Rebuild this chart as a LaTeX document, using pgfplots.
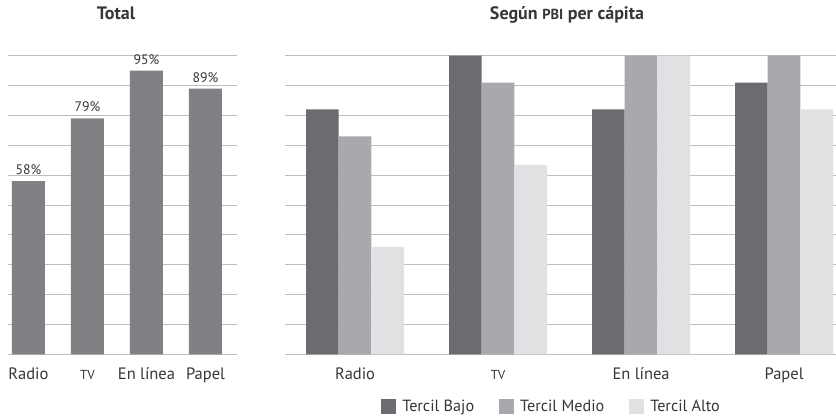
\documentclass[border=0pt]{standalone}
\usepackage{pgfplots}
\pgfplotsset{compat=1.18}
\usepackage{fontspec}
\setmainfont{PT Sans}
\definecolor{barL}{HTML}{808185}
\definecolor{cDark}{HTML}{6B6C70}
\definecolor{cMed}{HTML}{A8A9AC}
\definecolor{cLight}{HTML}{E0E1E3}
\definecolor{gridc}{HTML}{BEBEBE}
\definecolor{basec}{HTML}{A4A4A4}
\definecolor{txt}{HTML}{363636}
\newcommand{\tickfont}{\fontsize{16.5}{18}\selectfont}
\newcommand{\smtick}{\fontsize{13}{15}\selectfont}
\newcommand{\titlefont}{\fontsize{18}{20}\selectfont\bfseries}
\begin{document}
\begin{tikzpicture}[x=1pt,y=1pt]
\path[use as bounding box] (0,0) rectangle (836,417);
\pgfplotsset{
  base/.style={
    scale only axis, anchor=south west, ybar,
    ymin=0, ymax=100, ytick={10,20,...,100}, yticklabels={},
    ymajorgrids, major grid style={line width=1pt, color=gridc},
    extra y ticks={0}, extra y tick labels={},
    extra y tick style={grid style={line width=1.2pt, color=basec}},
    axis line style={draw=none}, tick style={draw=none},
    xtick={0,1,2,3},
    xticklabel style={font=\tickfont, text=txt, anchor=base, yshift=-21pt},
    title style={font=\titlefont, text=txt, anchor=base},
  }
}
\begin{axis}[base, at={(8pt,62.5pt)}, width=229pt, height=298.8pt,
  xmin=-0.347, xmax=3.534,
  xticklabels={Radio,{\smtick TV},En línea,Papel},
  title={Total}, title style={at={(axis description cs:0.4716,1.0994)}},
  bar width=33pt,
  nodes near coords, point meta=explicit symbolic,
  nodes near coords align={anchor=base,yshift=6.5pt},
  every node near coord/.append style={font=\fontsize{13.8}{16}\selectfont, text=txt},
]
\addplot[fill=barL, draw=none, bar shift=0pt] coordinates {(0,58) [58\%] (1,79) [79\%] (2,95) [95\%] (3,89) [89\%]};
\end{axis}
\begin{axis}[base, at={(285pt,62.5pt)}, width=551pt, height=298.8pt,
  xmin=-0.49, xmax=3.363,
  xticklabels={Radio,{\smtick TV},En línea,Papel},
  title={Según {\fontsize{14.5}{16}\selectfont PBI} per cápita},
  title style={at={(axis description cs:0.5118,1.0994)}},
  bar width=32.7pt,
  legend columns=3,
  legend image code/.code={\fill[#1,draw=none] (0pt,-7.5pt) rectangle (15pt,7.5pt);},
  legend style={at={(axis description cs:0.169,-0.173)}, anchor=west, draw=none, fill=none,
    font=\fontsize{16.2}{18}\selectfont, text=txt,
    /tikz/every odd column/.append style={column sep=4pt},
    /tikz/every even column/.append style={column sep=23pt}},
  legend cell align=left,
]
\addplot[fill=cDark, draw=none, bar shift=-32.7pt] coordinates {(0,82) (1,100) (2,82) (3,91)};
\addplot[fill=cMed, draw=none, bar shift=0pt] coordinates {(0,73) (1,91) (2,100) (3,100)};
\addplot[fill=cLight, draw=none, bar shift=32.7pt] coordinates {(0,36) (1,63.5) (2,100) (3,82)};
\legend{Tercil Bajo, Tercil Medio, Tercil Alto}
\end{axis}
\end{tikzpicture}
\end{document}
